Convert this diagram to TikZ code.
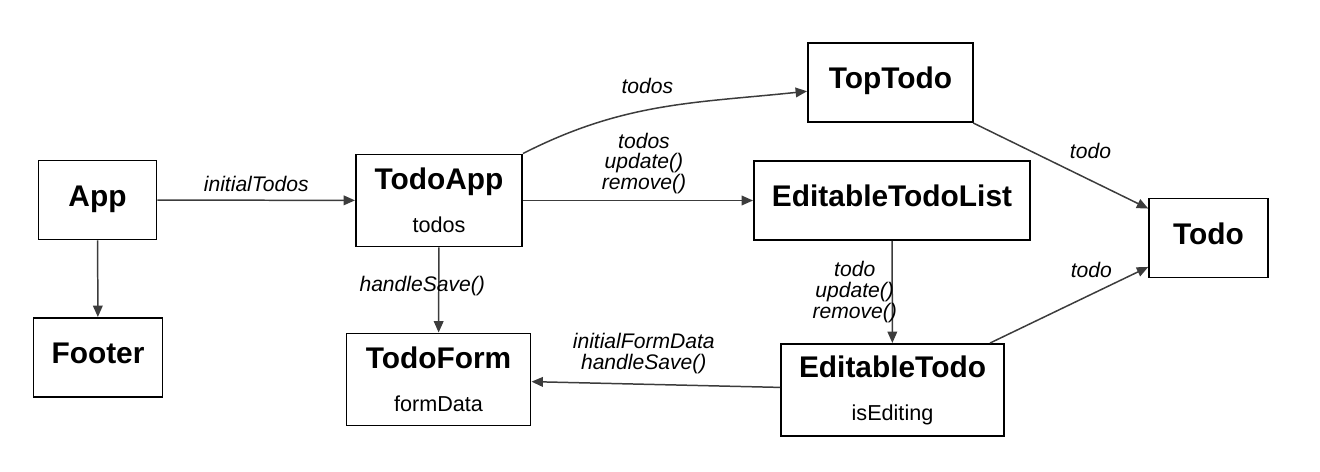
\documentclass[tikz,border=0pt]{standalone}
\usepackage{fontspec}
\setmainfont{Liberation Sans}
\usetikzlibrary{arrows.meta}
\definecolor{linegray}{HTML}{3C3C3C}
\newcommand{\titlefont}{\fontsize{17}{20}\selectfont\bfseries}
\newcommand{\subfont}{\fontsize{12.3}{14}\selectfont}
\newcommand{\propfont}{\fontsize{12}{11.8}\selectfont\itshape}
\tikzset{
 comp/.style={draw=black, line width=1.1pt, minimum height=1.58cm, font=\titlefont, text height=12.2pt, text depth=5pt, inner sep=0pt},
 compstate/.style={draw=black, line width=1.1pt, minimum height=1.84cm, font=\subfont, align=center, inner sep=0pt},
 prop/.style={font=\propfont, align=center, text=black},
 link/.style={->, draw=linegray, line width=0.85pt}
}
\begin{document}
\begin{tikzpicture}[>={Triangle[length=6.5pt,width=5.5pt]}]
\useasboundingbox (0,0) rectangle (26.4,-9.44);
% các thành phần
\node[comp, minimum width=2.36cm] (app) at (1.95,-4.00) {App};
\node[comp, minimum width=2.58cm] (footer) at (1.96,-7.15) {Footer};
\node[compstate, minimum width=3.32cm] (todoapp) at (8.78,-4.01) {{\titlefont TodoApp}\\[10.5pt]todos};
\node[compstate, minimum width=3.68cm] (todoform) at (8.77,-7.59) {{\titlefont TodoForm}\\[10.5pt]formData};
\node[comp, minimum width=3.30cm] (toptodo) at (17.81,-1.65) {TopTodo};
\node[comp, minimum width=5.52cm] (edlist) at (17.84,-4.01) {EditableTodoList};
\node[comp, minimum width=2.37cm] (todo) at (24.17,-4.76) {Todo};
\node[compstate, minimum width=4.46cm] (edtodo) at (17.85,-7.80) {{\titlefont EditableTodo}\\[10.5pt]isEditing};
% các mũi tên truyền props
\draw[link] (app) -- node[prop, above, yshift=1pt] {initialTodos} (todoapp);
\draw[link] (app) -- (footer);
\draw[link] (todoapp.north east) to[out=27, in=186] node[prop, pos=0.45, above=0.2cm] {todos} (toptodo);
\draw[link] (todoapp) -- node[prop, above, xshift=0.12cm] {todos\\update()\\remove()} (edlist);
\draw[link] (todoapp) -- node[prop, xshift=-0.33cm, yshift=0.08cm] {handleSave()} (todoform);
\draw[link] (toptodo) -- node[prop, pos=0.67, above=0.3cm] {todo} (todo);
\draw[link] (edlist) -- node[prop, xshift=-0.75cm] {todo\\update()\\remove()} (edtodo);
\draw[link] (edtodo) -- node[prop, pos=0.64, above=0.21cm] {todo} (todo);
\draw[link] (edtodo) -- node[prop, above, xshift=-0.24cm, yshift=0.08cm] {initialFormData\\handleSave()} (todoform);
\end{tikzpicture}
\end{document}
